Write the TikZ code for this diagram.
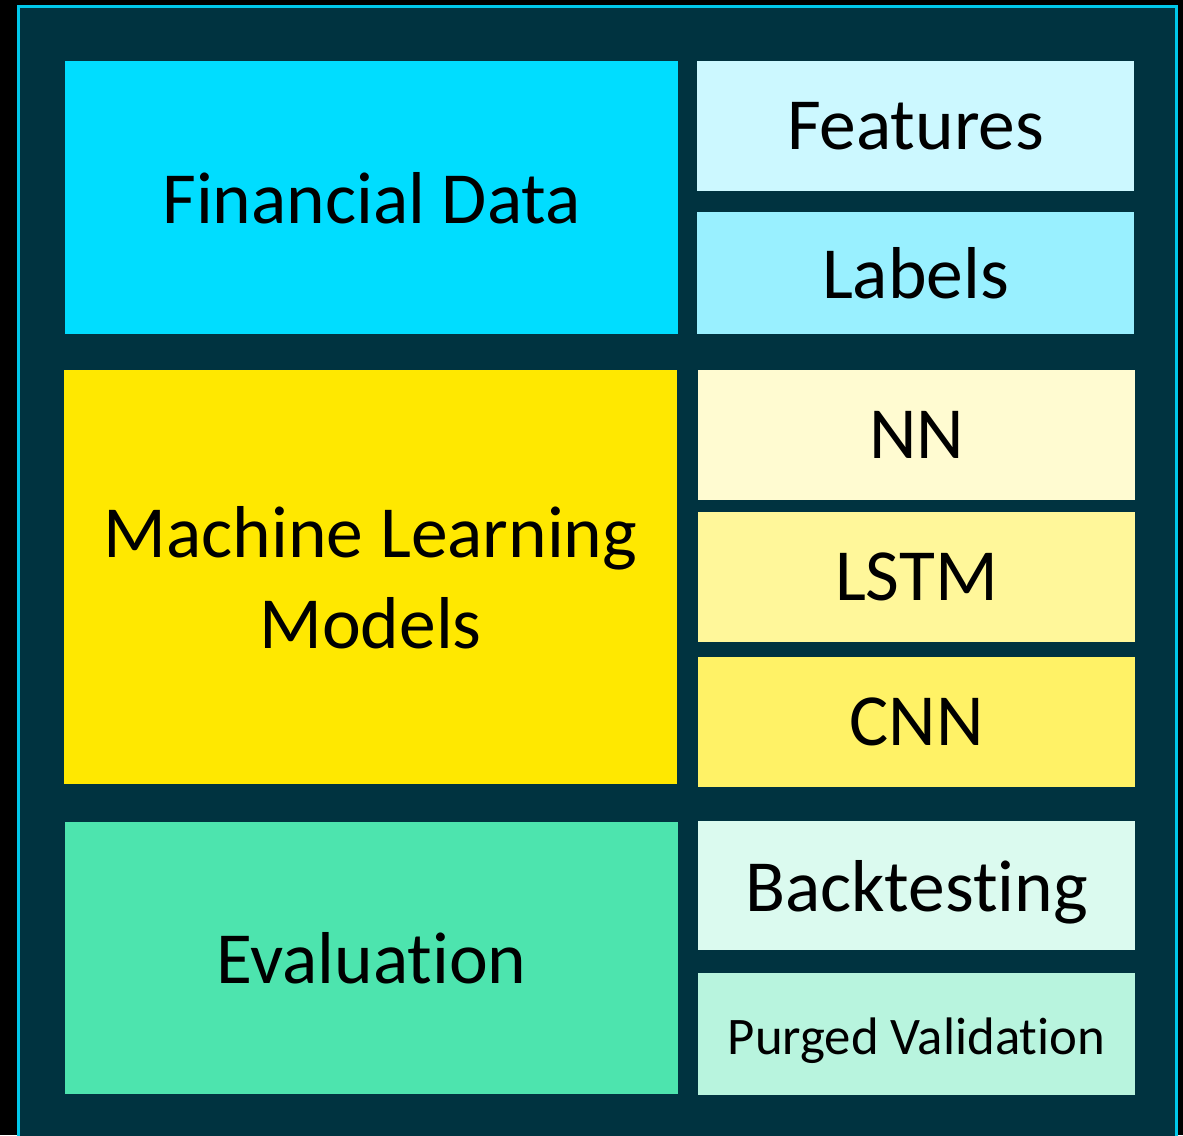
\documentclass[tikz,border=0pt]{standalone}
\usepackage{fontspec}
\setmainfont{Carlito}[Ligatures={NoCommon,NoRare,NoContextual}]
\usepackage{tikz}
\usetikzlibrary{positioning}
\definecolor{bgcolor}{RGB}{0,51,64}
\definecolor{framecolor}{RGB}{0,200,235}
\definecolor{datacolor}{RGB}{0,221,255}
\definecolor{featcolor}{RGB}{204,248,255}
\definecolor{labcolor}{RGB}{153,240,255}
\definecolor{mlcolor}{RGB}{255,232,0}
\definecolor{nncolor}{RGB}{255,251,209}
\definecolor{lstmcolor}{RGB}{255,247,154}
\definecolor{cnncolor}{RGB}{255,242,102}
\definecolor{evalcolor}{RGB}{77,228,174}
\definecolor{btcolor}{RGB}{219,250,239}
\definecolor{pvcolor}{RGB}{184,244,222}

\begin{document}
\begin{tikzpicture}[x=1pt, y=-1pt,
    blk/.style={inner sep=0pt, text depth=0pt, font=\fontsize{73.5}{91}\selectfont, align=center},
    bigblk/.style={blk, minimum width=613pt},
    subblk/.style={blk, minimum width=437pt}]
    \useasboundingbox (0,0) rectangle (1183,1135);
    \fill[black] (0,0) rectangle (1183,1135);
    \begin{scope}
      \clip (0,0) rectangle (1183,1135);
      \draw[framecolor, line width=2.5pt, fill=bgcolor] (18.25,6.25) rectangle (1176.5,1160);
    \end{scope}
    % data
    \node[bigblk, fill=datacolor, minimum height=273pt] (findata) at (371.5,197.5) {Financial Data};
    \node[subblk, fill=featcolor, minimum height=130pt] (features) at (915.5,126) {Features};
    \node[subblk, fill=labcolor, minimum height=122pt] (labels) at (915.5,273) {Labels};
    % models
    \node[bigblk, fill=mlcolor, minimum height=414pt] (models) at (370.5,577) {Machine Learning\\Models};
    \node[subblk, fill=nncolor, minimum height=130pt] (nn) at (916.5,435) {NN};
    \node[subblk, fill=lstmcolor, minimum height=130pt] (lstm) at (916.5,577) {LSTM};
    \node[subblk, fill=cnncolor, minimum height=130pt] (cnn) at (916.5,722) {CNN};
    % evaluation
    \node[bigblk, fill=evalcolor, minimum height=272pt] (evaluation) at (371.5,958) {Evaluation};
    \node[subblk, fill=btcolor, minimum height=129pt] (backtest) at (916.5,885.5) {Backtesting};
    \node[subblk, fill=pvcolor, minimum height=122pt] (purged) at (916.5,1034) {};
    \node[blk, font=\fontsize{52.8}{60}\selectfont] (purgedtext) at ([yshift=-2pt]purged.center) {Purged Validation};
\end{tikzpicture}
\end{document}
